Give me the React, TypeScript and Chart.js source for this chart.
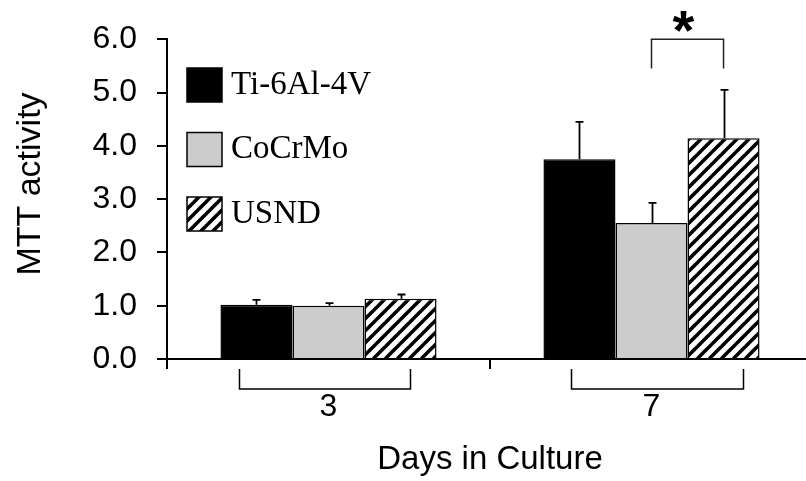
import React, { useEffect, useRef } from 'react';
import { Chart, registerables } from 'chart.js';

Chart.register(...registerables);

// ---- data ----
const categories = ['3', '7'];
const seriesNames = ['Ti-6Al-4V', 'CoCrMo', 'USND'];
const tiValues = [1.02, 3.75];
const tiErrors = [0.09, 0.7];
const cocrmoValues = [1.0, 2.55];
const cocrmoErrors = [0.05, 0.38];
const usndValues = [1.13, 4.14];
const usndErrors = [0.08, 0.91];
const yMin = 0;
const yMax = 6;
const yStep = 1;
const yAxisTitle = 'MTT activity';
const xAxisTitle = 'Days in Culture';
const sigLabel = '*';
const sigCategoryIndex = 1;
const sigFromSeries = 1;
const sigToSeries = 2;
const sigTopValue = 6.0;
const sigBottomValue = 5.45;

const SANS = '"Liberation Sans", Arial, sans-serif';
const SERIF = '"Liberation Serif", "Times New Roman", serif';

function makeHatch(): CanvasPattern | string {
  const c = document.createElement('canvas');
  c.width = 12;
  c.height = 12;
  const g = c.getContext('2d');
  if (!g) return '#888';
  g.fillStyle = '#ffffff';
  g.fillRect(0, 0, 12, 12);
  g.strokeStyle = '#000000';
  g.lineWidth = 3.6;
  for (const o of [-12, 0, 12]) {
    g.beginPath();
    g.moveTo(o - 2, 14);
    g.lineTo(o + 14, -2);
    g.stroke();
  }
  return g.createPattern(c, 'repeat') || '#888';
}

const errorSets = [tiErrors, cocrmoErrors, usndErrors];

const decorPlugin = {
  id: 'decor',
  afterDatasetsDraw(chart: any) {
    const ctx = chart.ctx;
    const y = chart.scales.y;
    ctx.save();
    ctx.strokeStyle = '#000';
    ctx.lineWidth = 1.8;
    chart.data.datasets.forEach((ds: any, i: number) => {
      const meta = chart.getDatasetMeta(i);
      meta.data.forEach((bar: any, j: number) => {
        const v = ds.data[j];
        const e = errorSets[i][j];
        const x = Math.round(bar.x) + 0.5;
        const y0 = y.getPixelForValue(v);
        const y1 = y.getPixelForValue(v + e);
        ctx.beginPath();
        ctx.moveTo(x, y0);
        ctx.lineTo(x, y1);
        ctx.moveTo(x - 4, y1);
        ctx.lineTo(x + 4, y1);
        ctx.stroke();
      });
    });
    ctx.restore();
  },
  afterDraw(chart: any) {
    const ctx = chart.ctx;
    const xs = chart.scales.x;
    const y = chart.scales.y;
    const area = chart.chartArea;
    ctx.save();

    // legend
    chart.data.datasets.forEach((ds: any, i: number) => {
      const bx = 187;
      const by = 68 + i * 64.5;
      ctx.fillStyle = ds.backgroundColor;
      ctx.fillRect(bx, by, 35, 34);
      ctx.strokeStyle = '#000';
      ctx.lineWidth = 1.5;
      ctx.strokeRect(bx, by, 35, 34);
      ctx.fillStyle = '#000';
      ctx.font = `33px ${SERIF}`;
      ctx.textAlign = 'left';
      ctx.textBaseline = 'middle';
      ctx.fillText(ds.label, 231, by + 17);
    });

    // y axis title
    ctx.save();
    ctx.translate(31, 184);
    ctx.rotate(-Math.PI / 2);
    ctx.font = `34px ${SANS}`;
    ctx.fillStyle = '#000';
    ctx.textAlign = 'center';
    ctx.textBaseline = 'middle';
    ctx.fillText(yAxisTitle, 0, 0);
    ctx.restore();

    // category brackets under axis
    const leftOff = [-89, -80];
    const rightOff = [82, 92];
    ctx.strokeStyle = '#000';
    ctx.lineWidth = 1.5;
    categories.forEach((_c, j) => {
      const cx = xs.getPixelForValue(j);
      const l = cx + leftOff[j];
      const r = cx + rightOff[j];
      const t = area.bottom + 10;
      const b = area.bottom + 30;
      ctx.beginPath();
      ctx.moveTo(l, t);
      ctx.lineTo(l, b);
      ctx.lineTo(r, b);
      ctx.lineTo(r, t);
      ctx.stroke();
    });

    // significance bracket
    const xa = chart.getDatasetMeta(sigFromSeries).data[sigCategoryIndex].x;
    const xb = chart.getDatasetMeta(sigToSeries).data[sigCategoryIndex].x;
    const yt = y.getPixelForValue(sigTopValue);
    const yb = y.getPixelForValue(sigBottomValue);
    ctx.strokeStyle = '#222';
    ctx.lineWidth = 1.5;
    ctx.beginPath();
    ctx.moveTo(xa, yb);
    ctx.lineTo(xa, yt);
    ctx.lineTo(xb, yt);
    ctx.lineTo(xb, yb);
    ctx.stroke();
    ctx.fillStyle = '#000';
    ctx.font = `bold 56px ${SANS}`;
    ctx.textAlign = 'center';
    ctx.textBaseline = 'alphabetic';
    ctx.fillText(sigLabel, (xa + xb) / 2 - 4, yt + 10);

    ctx.restore();
  },
};

export default function App() {
  const ref = useRef<HTMLCanvasElement>(null);
  useEffect(() => {
    if (!ref.current) return;
    const hatch = makeHatch();
    const values = [tiValues, cocrmoValues, usndValues];
    const fills: any[] = ['#000000', '#cccccc', hatch];
    const chart = new Chart(ref.current, {
      type: 'bar',
      data: {
        labels: categories,
        datasets: seriesNames.map((name, i) => ({
          label: name,
          data: values[i],
          backgroundColor: fills[i],
          borderColor: '#000000',
          borderWidth: 1.5,
          categoryPercentage: 0.669,
          barPercentage: 1.0,
        })),
      },
      options: {
        responsive: false,
        animation: false,
        devicePixelRatio: 1,
        layout: { padding: { top: 35, right: 17, left: 0, bottom: 0 } },
        plugins: {
          legend: { display: false },
          tooltip: { enabled: false },
        },
        scales: {
          x: {
            offset: true,
            grid: {
              offset: true,
              drawOnChartArea: false,
              drawTicks: true,
              tickLength: 10,
              color: '#000',
              lineWidth: 2,
            },
            border: { display: true, color: '#000', width: 2 },
            ticks: {
              color: '#000',
              font: { family: SANS, size: 32 },
              padding: 19,
            },
            title: {
              display: true,
              text: xAxisTitle,
              color: '#000',
              font: { family: SANS, size: 33 },
              padding: { top: 0, bottom: 1 },
            },
            afterFit(scale: any) {
              scale.height = 122;
            },
          },
          y: {
            min: yMin,
            max: yMax,
            grid: {
              drawOnChartArea: false,
              drawTicks: true,
              tickLength: 10,
              color: '#000',
              lineWidth: 2,
            },
            border: { display: true, color: '#000', width: 2 },
            ticks: {
              stepSize: yStep,
              color: '#000',
              font: { family: SANS, size: 32 },
              padding: 20,
              callback: (v: any) => Number(v).toFixed(1),
            },
            afterFit(scale: any) {
              scale.width = 167;
            },
          },
        },
      },
      plugins: [decorPlugin],
    });
    return () => chart.destroy();
  }, []);
  return (
    <div
      style={{
        position: 'fixed',
        left: 0,
        top: 0,
        width: 806,
        height: 481,
        overflow: 'hidden',
        background: '#fff',
      }}
    >
      <canvas ref={ref} width={830} height={481} style={{ display: 'block', width: 830, height: 481 }} />
    </div>
  );
}
